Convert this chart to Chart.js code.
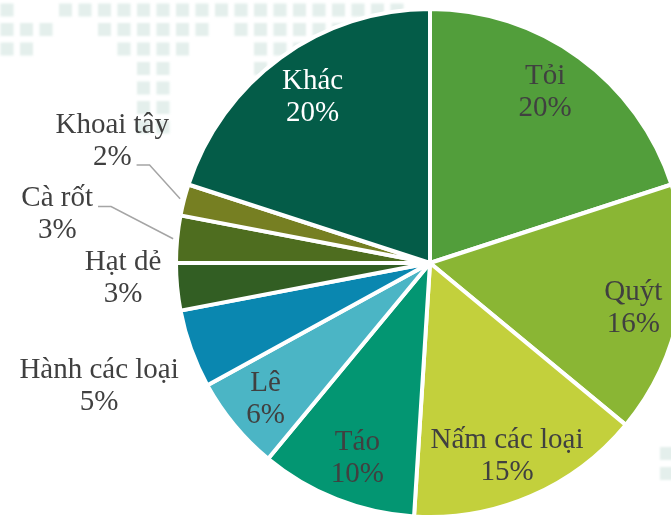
<!DOCTYPE html>
<html>
<head>
<meta charset="utf-8">
<script src="https://cdn.jsdelivr.net/npm/chart.js@4.4.0/dist/chart.umd.min.js"></script>
<style>
html, body { margin: 0; padding: 0; background: #fff; overflow: hidden; width: 671px; height: 516px; }
#wrap { position: relative; width: 671px; height: 516px; overflow: hidden; }
#chart { position: absolute; left: 0; top: 0; }
</style>
</head>
<body>
<div id="wrap"><canvas id="chart" width="860" height="526"></canvas></div>
<script>
// Dữ liệu
const categories = ['Tỏi', 'Quýt', 'Nấm các loại', 'Táo', 'Lê', 'Hành các loại', 'Hạt dẻ', 'Cà rốt', 'Khoai tây', 'Khác'];
const shares = [20, 16, 15, 10, 6, 5, 3, 3, 2, 20];

const sliceColors = ['#529E3B', '#8AB634', '#C3D03C', '#039672', '#4BB5C5', '#0A87B0', '#325E23', '#4E6D1F', '#767F22', '#045C48'];
const textColors = ['#404040', '#404040', '#404040', '#404040', '#404040', '#404040', '#404040', '#404040', '#404040', '#ffffff'];

// vị trí nhãn: r = tỉ lệ bán kính, da = lệch góc (độ), leader = dòng nối đường dẫn
const placement = [
    { r: 0.81, da: -2 },
    { r: 0.82, da: 1.7 },
    { r: 0.82, da: 1.7 },
    { r: 0.82, da: -1.2 },
    { r: 0.84, da: 0 },
    { r: 1.39, da: -0.6 },
    { r: 1.21, da: 2.6 },
    { r: 1.48, da: 2, leader: 0 },
    { r: 1.34, da: 6.6, leader: 1 },
    { r: 0.80, da: 0.7 }
];

// nền chấm bản đồ (trang trí)
const dotRows = [
    '100111111111111111111',
    '111001111110111111110',
    '110000111100011110000',
    '000000011000010000000',
    '000000011000000000000',
    '000000011000000000000',
    '000000011000000000000'
];

const backgroundDots = {
    id: 'backgroundDots',
    beforeDraw(chart) {
        const ctx = chart.ctx;
        ctx.save();
        ctx.filter = 'blur(1.2px)';
        ctx.fillStyle = '#E4EFEC';
        dotRows.forEach((row, r) => {
            for (let c = 0; c < row.length; c++) {
                if (row[c] === '1') {
                    const cx = 7 + c * 19.5, cy = 10 + r * 19.5;
                    ctx.fillRect(cx - 6.5, cy - 6.5, 13, 13);
                }
            }
        });
        ctx.fillRect(660, 447, 13, 13);
        ctx.fillRect(660, 467, 13, 13);
        ctx.restore();
    }
};

const sliceLabels = {
    id: 'sliceLabels',
    afterDatasetsDraw(chart) {
        const ctx = chart.ctx;
        const meta = chart.getDatasetMeta(0);
        const total = shares.reduce((a, b) => a + b, 0);
        ctx.save();
        ctx.font = '29px "Liberation Serif", "Times New Roman", serif';
        ctx.textAlign = 'center';
        ctx.textBaseline = 'middle';
        meta.data.forEach((arc, i) => {
            const p = placement[i];
            const midRaw = (arc.startAngle + arc.endAngle) / 2;
            const mid = midRaw + p.da * Math.PI / 180;
            const rr = arc.outerRadius * p.r;
            const x = arc.x + Math.cos(mid) * rr;
            const y = arc.y + Math.sin(mid) * rr;
            const lines = [categories[i], Math.round(shares[i] / total * 100) + '%'];
            ctx.fillStyle = textColors[i];
            ctx.fillText(lines[0], x, y - 16);
            ctx.fillText(lines[1], x, y + 16);

            if (p.leader !== undefined) {
                const w = ctx.measureText(lines[p.leader]).width;
                const sx = x + w / 2 + 5;
                const sy = y + (p.leader === 0 ? -16 : 16) + 8;
                const ex = arc.x + Math.cos(midRaw) * (arc.outerRadius + 4);
                const ey = arc.y + Math.sin(midRaw) * (arc.outerRadius + 4);
                ctx.strokeStyle = '#A5A5A5';
                ctx.lineWidth = 1.5;
                ctx.beginPath();
                ctx.moveTo(sx, sy);
                ctx.lineTo(sx + 13, sy);
                ctx.lineTo(ex, ey);
                ctx.stroke();
            }
        });
        ctx.restore();
    }
};

new Chart(document.getElementById('chart').getContext('2d'), {
    type: 'pie',
    data: {
        labels: categories,
        datasets: [{
            data: shares,
            backgroundColor: sliceColors,
            borderColor: '#ffffff',
            borderWidth: 4,
            radius: 254
        }]
    },
    options: {
        responsive: false,
        animation: false,
        layout: { padding: 0 },
        plugins: {
            legend: { display: false },
            tooltip: { enabled: false }
        }
    },
    plugins: [backgroundDots, sliceLabels]
});
</script>
</body>
</html>
